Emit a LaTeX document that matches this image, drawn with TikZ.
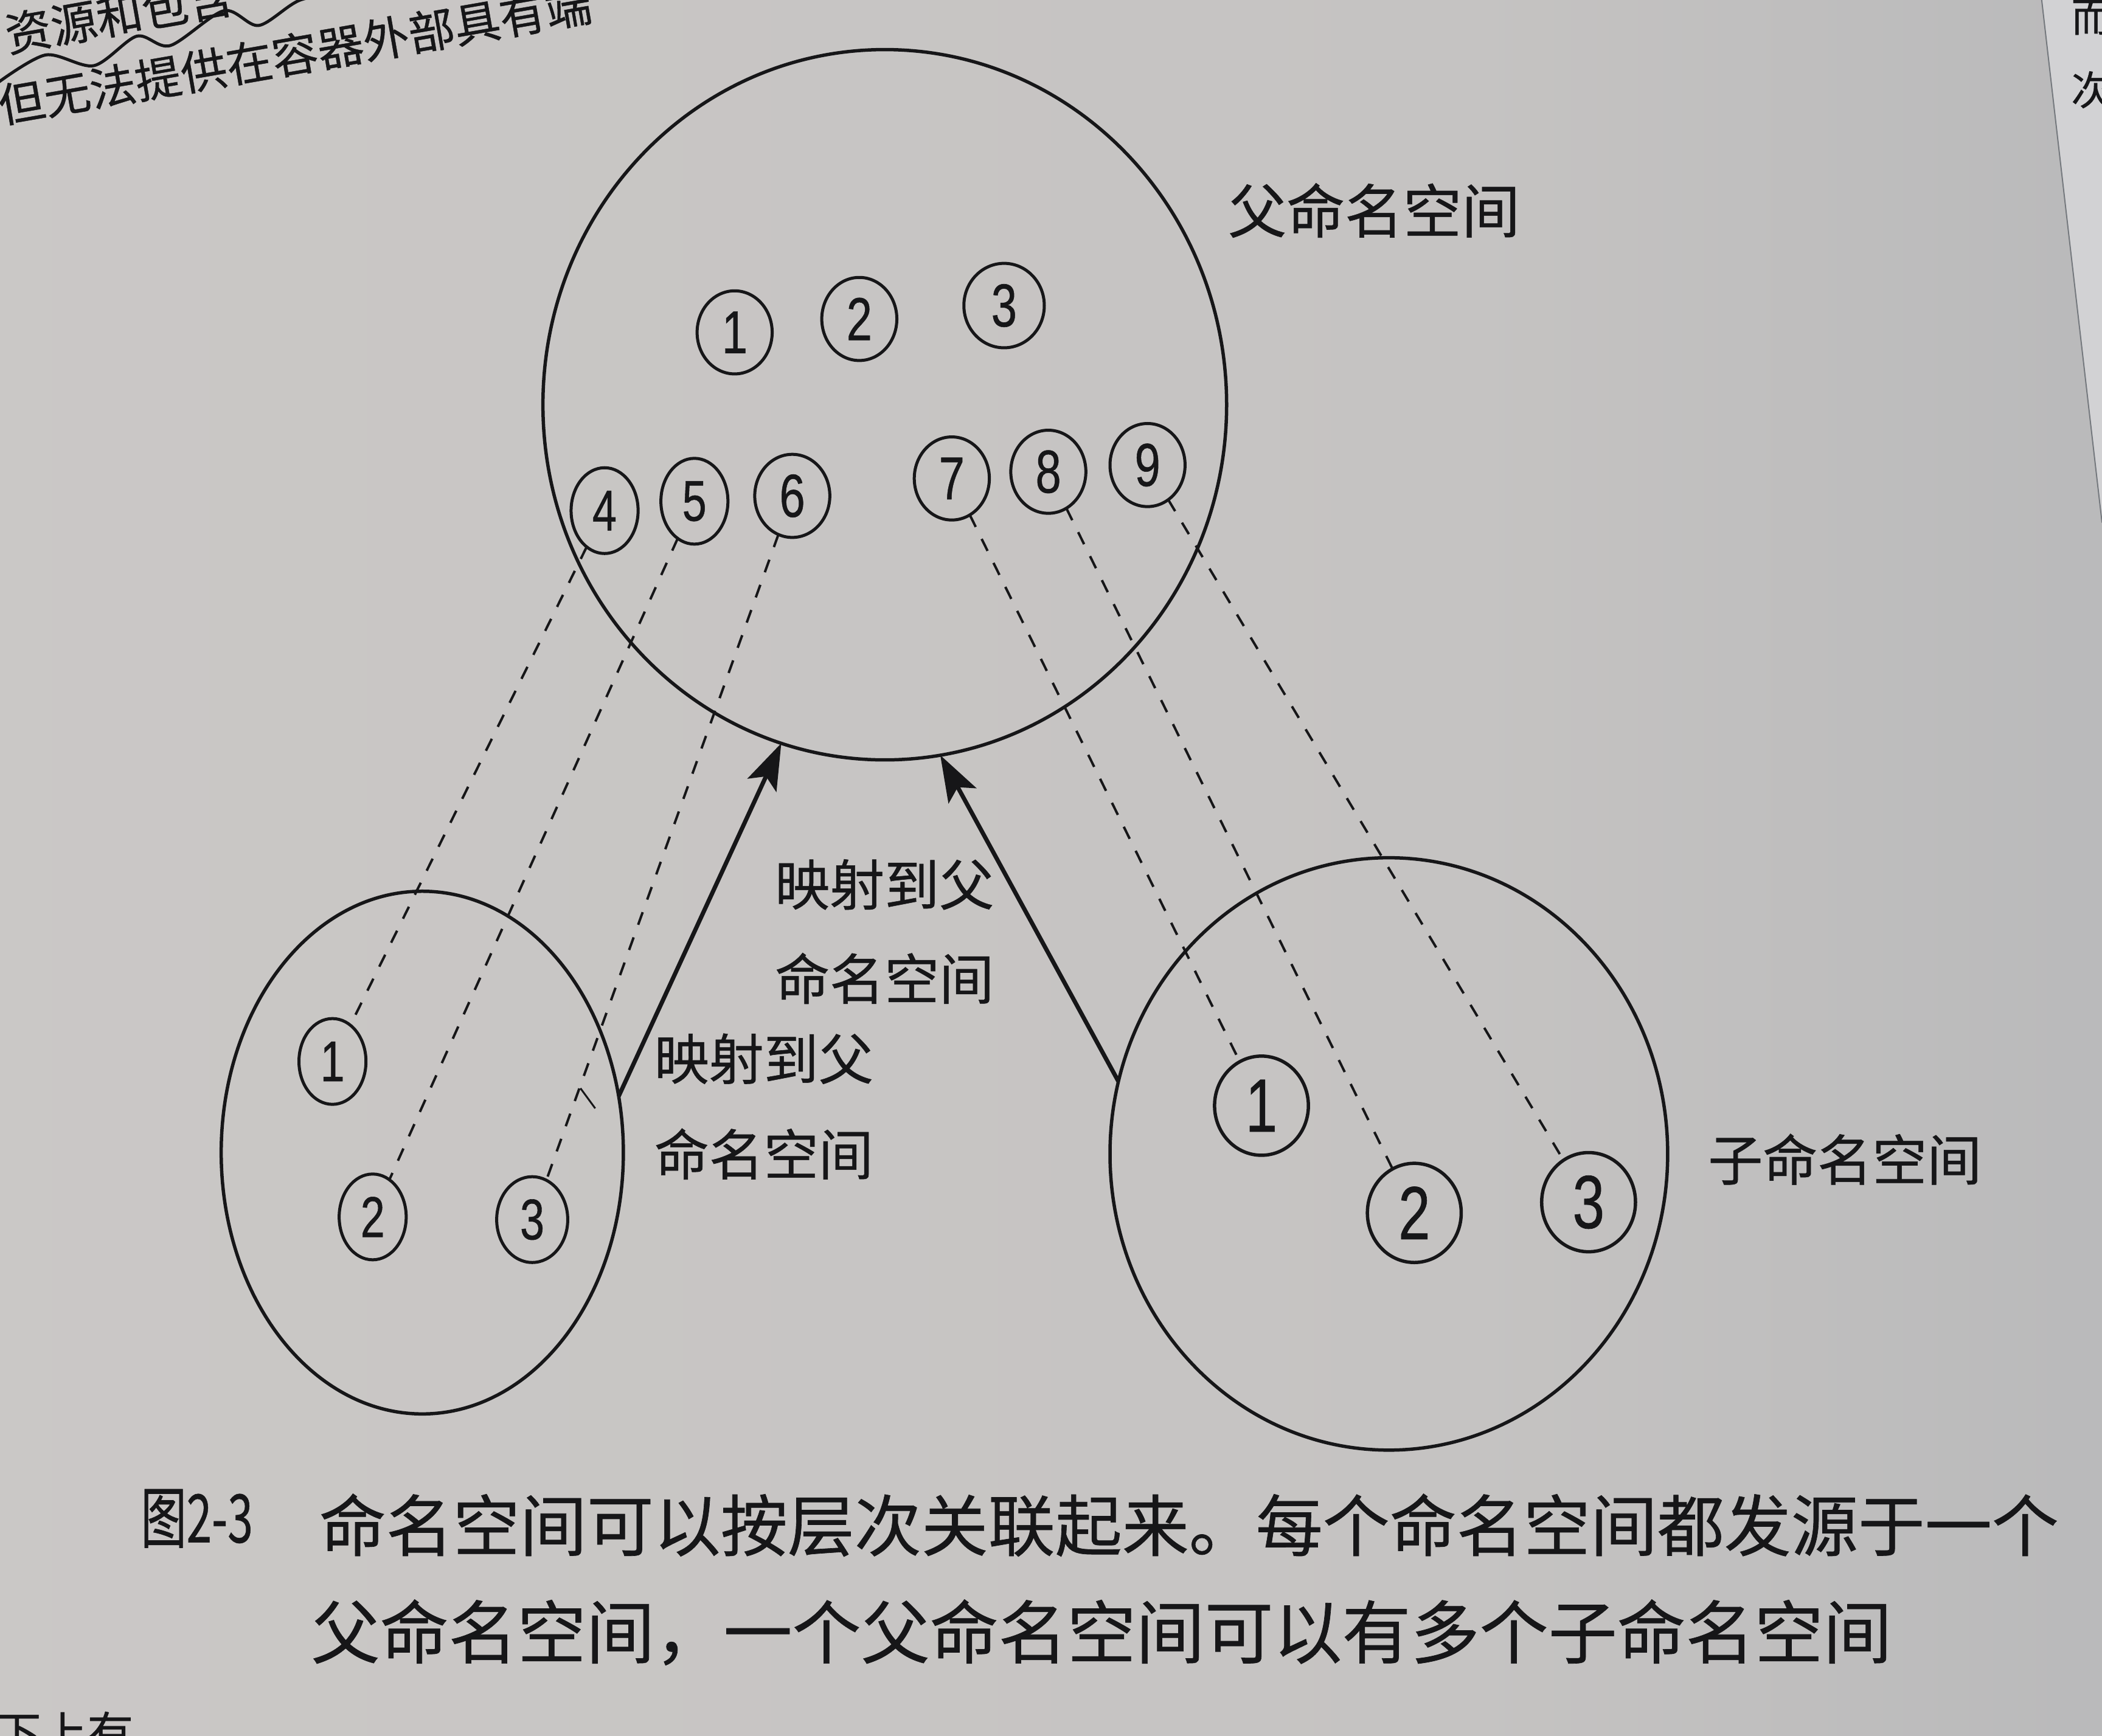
\documentclass[tikz,border=0pt]{standalone}
\usepackage{graphicx}
\usepackage{fontspec}
\setmainfont{Noto Sans CJK SC}[FakeBold=0.6]
\newfontfamily\numfont{Liberation Sans}[FakeBold=0.6]
\usetikzlibrary{shapes.geometric,arrows.meta}
\definecolor{ink}{RGB}{22,22,24}
\definecolor{pgL}{RGB}{206,203,201}
\definecolor{pgM}{RGB}{197,195,194}
\definecolor{pgN}{RGB}{174,176,179}
\definecolor{pgR}{RGB}{146,151,158}
\definecolor{sliver}{RGB}{210,210,212}
\pgfdeclarehorizontalshading{pageshade}{100bp}{color(0bp)=(pgL); color(60bp)=(pgM); color(90bp)=(pgN); color(100bp)=(pgR)}
\newcommand{\dg}[1]{\scalebox{0.8}[1.05]{#1}}
\begin{document}
\begin{tikzpicture}[x=2.204pt,y=-2.204pt,
  bigc/.style={ellipse,draw=ink,line width=5.5pt,inner sep=0pt,outer sep=0pt},
  sm/.style={ellipse,draw=ink,line width=5pt,inner sep=0pt,outer sep=0pt,text=ink,
     minimum width=56*2.204pt,minimum height=62*2.204pt,font=\numfont\fontsize{95}{95}\selectfont},
  smL/.style={sm,minimum width=50*2.204pt,minimum height=64*2.204pt,font=\numfont\fontsize{90}{90}\selectfont},
  smR/.style={sm,line width=5.5pt,minimum width=70*2.204pt,minimum height=74*2.204pt,font=\numfont\fontsize{118}{118}\selectfont},
  dsh/.style={draw=ink,line width=4pt,dash pattern=on 22pt off 22pt},
  arr/.style={draw=ink,line width=7pt,-{Stealth[length=76pt,width=52pt,inset=16pt]}},
  lbl/.style={inner sep=0pt,anchor=west,text=ink,font=\fontsize{90}{90}\selectfont},
  frag/.style={inner sep=0pt,anchor=west,text=ink,font=\fontsize{76}{76}\selectfont}]
\useasboundingbox (0,0) rectangle (1568,1295);
\clip (0,0) rectangle (1568,1295);
\shade[shading=pageshade] (0,0) rectangle (1568,1295);
% next page sliver
\fill[sliver] (1523,0) -- (1568,0) -- (1568,390) -- cycle;
\draw[pgR!80!black,line width=2pt] (1523,0) -- (1568,390);
\node[inner sep=0pt,text=ink,font=\fontsize{66}{66}\selectfont] (s1) at (1560,13) {而};
\node[inner sep=0pt,text=ink,font=\fontsize{66}{66}\selectfont] (s2) at (1560,67) {次};
% previous text fragments, top left
\node[frag,rotate=10] (f1) at (4,26) {资源和包含};
\node[frag,rotate=9.9] (f2) at (-1,79) {但无法提供在容器外部具有端};
\draw[ink,line width=5pt] plot[smooth] coordinates {(-2,62) (34,41) (70,49) (102,27) (127,34) (167,8) (193,19) (224,0) (262,-6)};
\node[frag,anchor=north west] (f3) at (-4,1277) {下上有};
% big circles
\node[bigc,minimum width=510*2.204pt,minimum height=530*2.204pt] (parent) at (660,302) {};
\node[bigc,minimum width=300*2.204pt,minimum height=390*2.204pt] (left) at (315,860) {};
\node[bigc,minimum width=416*2.204pt,minimum height=442*2.204pt] (right) at (1036,861) {};
% small circles in parent
\node[sm] (p1) at (548,248) {\dg{1}};
\node[sm] (p2) at (641,238) {\dg{2}};
\node[sm,minimum width=60*2.204pt,minimum height=63*2.204pt] (p3) at (749,228) {\dg{3}};
\node[smL] (p4) at (451,381) {\dg{4}};
\node[smL] (p5) at (518,374) {\dg{5}};
\node[sm] (p6) at (591,370) {\dg{6}};
\node[sm] (p7) at (710,357) {\dg{7}};
\node[sm] (p8) at (782,352) {\dg{8}};
\node[sm] (p9) at (856,347) {\dg{9}};
% left children
\node[smL] (l1) at (248,792) {\dg{1}};
\node[smL] (l2) at (278,908) {\dg{2}};
\node[smL,minimum width=53*2.204pt] (l3) at (397,910) {\dg{3}};
% right children
\node[smR] (r1) at (941,825) {\dg{1}};
\node[smR] (r2) at (1055,905) {\dg{2}};
\node[smR] (r3) at (1185,897) {\dg{3}};
% dashed mappings
\draw[dsh] (p4) -- (l1);
\draw[dsh] (p5) -- (l2);
\draw[dsh] (p6) -- (l3);
\draw[dsh] (p7) -- (r1);
\draw[dsh] (p8) -- (r2);
\draw[dsh] (p9) -- (r3);
\coordinate (t1) at (433,812);
\coordinate (t2) at (444,827);
\draw[ink,line width=3pt] (t1) -- (t2);
% arrows
\draw[arr] (left.16.9) -- (parent.253.3);
\draw[arr] (right.165.7) -- (parent.279.8);
% labels
\node[lbl] (m1) at (578,660) {映射到父};
\node[lbl] (m2) at (578,730) {命名空间};
\node[lbl] (n1) at (488,790) {映射到父};
\node[lbl] (n2) at (488,861) {命名空间};
\node[lbl,font=\fontsize{96}{96}\selectfont] (pl) at (916,157) {父命名空间};
\node[lbl] (cl) at (1274,865) {子命名空间};
% caption
\node[lbl,font=\fontsize{100}{100}\selectfont] (fig) at (105,1133) {\scalebox{0.75}[1.1]{图2-3}};
\node[lbl,font=\fontsize{110}{110}\selectfont] (c1) at (238,1138) {命名空间可以按层次关联起来。每个命名空间都发源于一个};
\node[lbl,font=\fontsize{113}{113}\selectfont] (c2) at (232,1218) {父命名空间，一个父命名空间可以有多个子命名空间};
\end{tikzpicture}
\end{document}
